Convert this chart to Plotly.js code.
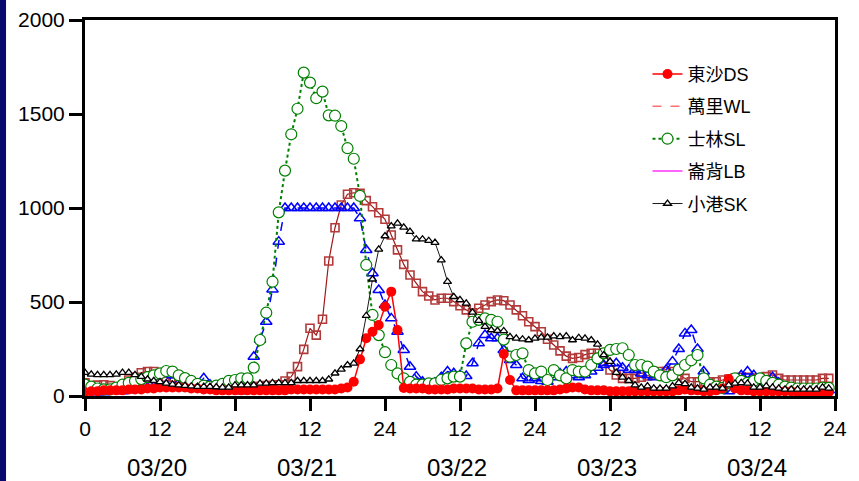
<!DOCTYPE html>
<html>
<head>
<meta charset="utf-8">
<script src="https://cdn.plot.ly/plotly-3.0.1.min.js"></script>
<style>html,body{margin:0;padding:0;background:#fff;}#chart{width:859px;height:481px;}</style>
</head>
<body>
<div id="chart"></div>
<script>
// Hour index (hours since 03/20 00:00)
const hours = Array.from({length: 120}, (_, i) => i);

// 東沙DS (red filled circles)
const dsValues = [
  20,25,25,30,30,30,30,35,35,35,
  40,40,45,45,45,45,45,40,40,35,
  35,30,30,30,30,30,30,30,30,30,
  30,30,30,35,35,35,35,35,35,35,
  35,40,45,76,195,307,342,378,475,555,
  351,43,40,40,40,35,35,35,35,40,
  40,40,40,35,35,35,40,223,85,30,
  30,30,30,30,30,30,35,40,45,45,
  35,30,30,30,25,25,25,25,25,25,
  25,25,25,25,25,30,35,30,30,25,
  25,30,40,90,40,30,30,25,25,25,
  25,25,25,25,20,20,20,20,20,20
];

// Brown open squares series
const squareValues = [
  70,32,58,60,55,41,41,85,100,124,
  130,130,120,100,76,67,60,55,50,50,
  50,50,50,50,50,50,50,50,50,55,
  55,60,80,103,156,248,360,324,408,718,
  895,1016,1073,1081,1078,1039,1007,975,940,856,
  777,700,644,600,555,532,511,520,520,502,
  480,458,443,467,484,502,511,507,484,458,
  427,395,369,342,302,271,240,212,200,205,
  220,227,227,183,138,112,94,94,94,100,
  106,112,130,130,130,112,94,76,76,76,
  76,76,85,90,95,100,100,95,94,103,
  112,94,85,85,85,85,85,85,94,94
];

// Blue open triangles series (dashed)
const triangleValues = [
  30,25,20,20,30,40,25,30,40,50,
  45,50,55,60,110,70,50,40,60,94,
  60,50,40,35,30,25,70,209,300,395,
  567,821,1000,1000,1000,1000,1000,1000,1000,1000,
  1000,1000,1000,1000,945,777,653,564,484,413,
  342,245,156,103,76,60,70,100,130,121,
  110,106,174,280,324,307,307,245,191,165,
  94,85,94,80,76,100,120,130,110,100,
  110,130,150,165,174,174,150,140,138,120,
  110,100,110,140,183,250,333,351,250,130,
  60,40,30,25,60,110,130,110,80,60,
  100,70,40,30,25,25,25,25,30,30
];

// 士林SL (green open circles, dotted)
const slValues = [
  60,50,40,35,35,45,60,70,80,90,
  100,110,120,133,130,110,95,80,65,55,
  50,55,65,80,85,94,94,151,298,443,
  608,977,1199,1392,1528,1720,1667,1584,1619,1493,
  1491,1436,1318,1262,1064,697,431,324,233,165,
  120,94,75,60,60,67,67,85,94,103,
  103,280,395,405,413,405,395,300,209,218,
  227,138,120,130,85,138,110,94,138,130,
  130,165,200,227,245,250,254,218,165,165,
  156,130,110,100,110,140,165,190,218,94,
  60,50,43,70,94,80,70,80,94,80,
  70,60,50,45,40,40,40,40,45,43
];

// 小港SK (black small open triangles)
const skValues = [
  124,115,112,112,112,115,124,124,112,103,
  89,81,75,67,62,58,55,52,50,50,
  50,48,46,46,58,58,58,58,67,67,
  70,70,70,70,81,81,81,81,81,89,
  121,142,165,174,250,427,621,780,851,904,
  918,897,874,834,834,826,816,723,608,528,
  511,493,445,401,369,351,347,346,315,307,
  302,298,307,312,312,319,315,319,298,310,
  307,298,275,218,183,124,99,81,58,46,
  53,41,41,41,53,70,65,46,41,35,
  46,46,41,58,67,70,67,46,46,53,
  46,41,35,35,35,35,35,35,46,41
];

const seriesNames = ['東沙DS', '萬里WL', '士林SL', '崙背LB', '小港SK'];
const xTickVals = [0,12,24,36,48,60,72,84,96,108,120];
const xTickText = ['0','12','24','12','24','12','24','12','24','12','24'];
const yTickVals = [0,500,1000,1500,2000];
const dayLabels = ['03/20','03/21','03/22','03/23','03/24'];
const dayCenters = [12,36,60,84,108];

const FONT = 'Liberation Sans, Arial, Noto Sans CJK TC, sans-serif';

const traces = [
  { // brown squares
    x: hours, y: squareValues, type: 'scatter', mode: 'lines+markers', showlegend: false,
    line: {color: '#A01818', width: 1.2},
    marker: {symbol: 'square-open', size: 8, color: '#B23A3A', line: {width: 1.6}}
  },
  { // blue triangles
    x: hours, y: triangleValues, type: 'scatter', mode: 'lines+markers', showlegend: false,
    line: {color: '#0000FF', width: 1.5, dash: 'dash'},
    marker: {symbol: 'triangle-up-open', size: 10, color: '#0000FF', line: {width: 1.5}}
  },
  {
    x: hours, y: slValues, type: 'scatter', mode: 'lines+markers', name: seriesNames[2],
    legendrank: 3, legendgroup: 'g3',
    line: {color: '#008000', width: 2, dash: 'dot'},
    marker: {symbol: 'circle', size: 11, color: '#FFFFFF', line: {color: '#008000', width: 1.2}}
  },
  {
    x: hours, y: dsValues, type: 'scatter', mode: 'lines+markers', name: seriesNames[0],
    legendrank: 1, legendgroup: 'g1',
    line: {color: '#FF0000', width: 1.5},
    marker: {symbol: 'circle', size: 10, color: '#FF0000'}
  },
  {
    x: hours, y: skValues, type: 'scatter', mode: 'lines+markers', name: seriesNames[4],
    legendrank: 5, legendgroup: 'g5',
    line: {color: '#000000', width: 0.9},
    marker: {symbol: 'triangle-up', size: 7, color: '#FFFFFF', line: {color: '#000000', width: 1.3}}
  },
  { // legend-only entry
    x: [null], y: [null], type: 'scatter', mode: 'lines', name: seriesNames[1],
    legendrank: 2, legendgroup: 'g2',
    line: {color: '#FF7070', width: 1.5, dash: 'dash'}
  },
  { // legend-only entry
    x: [null], y: [null], type: 'scatter', mode: 'lines', name: seriesNames[3],
    legendrank: 4, legendgroup: 'g4',
    line: {color: '#FF66FF', width: 2}
  }
];

const annotations = dayLabels.map((t, i) => ({
  x: dayCenters[i], xref: 'x', y: -0.189, yref: 'paper',
  text: t, showarrow: false, xanchor: 'center', yanchor: 'middle', xshift: -3,
  font: {family: FONT, size: 24, color: '#000'}
}));

const layout = {
  width: 859, height: 481,
  margin: {l: 85, r: 24, t: 20, b: 85},
  paper_bgcolor: '#FFFFFF', plot_bgcolor: '#FFFFFF',
  font: {family: FONT, color: '#000'},
  showlegend: true,
  legend: {
    x: 0.75, y: 0.905, xanchor: 'left', yanchor: 'top',
    bgcolor: 'rgba(0,0,0,0)', traceorder: 'grouped', tracegroupgap: 6,
    font: {family: FONT, size: 18, color: '#000'}, itemwidth: 30
  },
  xaxis: {
    range: [0, 120], tickmode: 'array', tickvals: xTickVals, ticktext: xTickText,
    ticks: 'outside', ticklen: 12, tickwidth: 3, tickcolor: '#000',
    showline: true, linewidth: 3, linecolor: '#000', mirror: true,
    showgrid: false, zeroline: false,
    tickfont: {family: FONT, size: 21, color: '#000'}
  },
  yaxis: {
    range: [0, 2000], tickmode: 'array', tickvals: yTickVals,
    ticks: 'outside', ticklen: 13, tickwidth: 3, tickcolor: '#000',
    showline: true, linewidth: 3, linecolor: '#000', mirror: true,
    showgrid: false, zeroline: false,
    tickfont: {family: FONT, size: 21, color: '#000'}
  },
  shapes: [{
    type: 'rect', xref: 'paper', yref: 'paper', layer: 'below',
    x0: -0.12, x1: -0.1053, y0: -0.3, y1: 1.1,
    fillcolor: '#0A0A6E', line: {width: 0}
  }],
  annotations: annotations
};

Plotly.newPlot('chart', traces, layout, {staticPlot: true, displayModeBar: false});
</script>
</body>
</html>
